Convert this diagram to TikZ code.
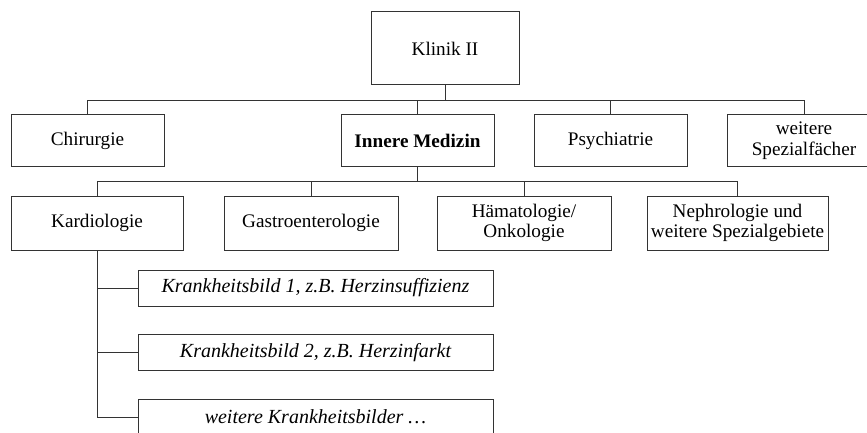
\documentclass[tikz,border=0pt]{standalone}
\usepackage{fontspec}
\setmainfont{Liberation Serif}
\usepackage{tikz}
\usetikzlibrary{positioning}
\tikzset{
    %Define style for boxes
    unitrect/.style={
           rectangle,
           draw=black!80, line width=0.5pt,
           inner sep=0pt,
           minimum width=76.5pt,
           minimum height=25.5pt,
           font=\fontsize{9.6}{10.2}\selectfont,
           align=center},
    subrect/.style={
           unitrect,
           minimum height=27pt},
    diseaserect/.style={
           unitrect,
           minimum width=177.5pt,
           minimum height=18pt,
           font=\fontsize{10}{11}\selectfont\itshape},
    % Define connector styles
    fork/.style={
           draw=black!80, line width=0.5pt,
           to path={(\tikztostart.south) -- ++(0,15) -| (\tikztotarget.north)}},
    branch/.style={
           draw=black!80, line width=0.5pt,
           to path={(\tikztostart.south) |- (\tikztotarget.west)}}
}
\begin{document}
\begin{tikzpicture}[x=0.5pt,y=-0.5pt]
\clip (0,0) rectangle (867,433);
 %nodes
\node[unitrect, minimum width=74pt, minimum height=36.5pt] (1) at (445,48.5) {Klinik II};
\node[unitrect] (2) at (87.5,140.5) {Chirurgie};
\node[unitrect, font=\fontsize{9.6}{10.2}\selectfont\bfseries] (3) at (417.5,140.5) {Innere Medizin};
\node[unitrect] (4) at (610.5,140.5) {Psychiatrie};
\node[unitrect, minimum width=77pt] (5) at (804,140.5) {weitere\\Spezialfächer};
\node[subrect, minimum width=86pt] (6) at (97,223) {Kardiologie};
\node[subrect, minimum width=87pt] (7) at (311,223) {Gastroenterologie};
\node[subrect, minimum width=87pt] (8) at (524,223) {Hämatologie/\\Onkologie};
\node[subrect, minimum width=90.5pt] (9) at (737.5,223) {Nephrologie und\\weitere Spezialgebiete};
\node[diseaserect] (10) at (315.5,288) {Krankheitsbild 1, z.B. Herzinsuffizienz};
\node[diseaserect] (11) at (315.5,352.5) {Krankheitsbild 2, z.B. Herzinfarkt};
\node[diseaserect] (12) at (315.5,417) {weitere Krankheitsbilder \dots};
 %connectors
\path
    (1) edge[fork] (2)
    (1) edge[fork] (3)
    (1) edge[fork] (4)
    (1) edge[fork] (5)
    (3) edge[fork] (6)
    (3) edge[fork] (7)
    (3) edge[fork] (8)
    (3) edge[fork] (9)
    (6) edge[branch] (10)
    (6) edge[branch] (11)
    (6) edge[branch] (12);
\end{tikzpicture}
\end{document}
